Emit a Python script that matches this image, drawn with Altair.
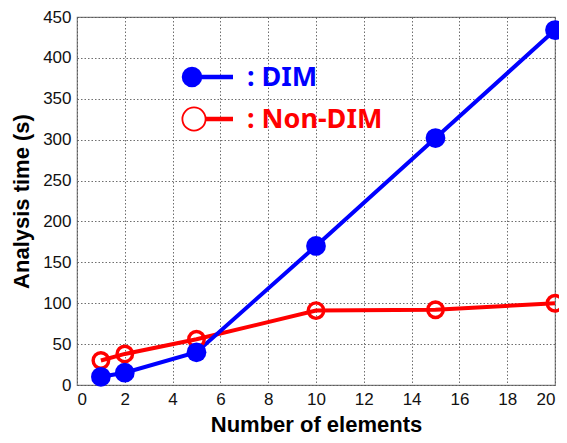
import altair as alt
import pandas as pd

elements = [1, 2, 5, 10, 15, 20]
dim_time = [10, 15, 40, 170, 302, 434]
nondim_time = [30, 38, 56, 91, 92, 100]
series_names = ["DIM", "Non-DIM"]
legend_labels = [": DIM", ": Non-DIM"]
x_ticks = list(range(0, 21, 2))
y_ticks = list(range(0, 451, 50))

BLUE = "#0000FF"
RED = "#FF0000"

df = pd.DataFrame({
    "n": elements * 2,
    "t": dim_time + nondim_time,
    "series": [series_names[0]] * len(elements) + [series_names[1]] * len(elements),
})
dim_df = df[df.series == "DIM"]
non_df = df[df.series == "Non-DIM"]

W, H = 478, 368

x = alt.X("n:Q", scale=alt.Scale(domain=[0, 20], nice=False),
          axis=alt.Axis(values=x_ticks, title="Number of elements", grid=True,
                        ticks=False, domain=False, labelPadding=6,
                        titlePadding=7))
y = alt.Y("t:Q", scale=alt.Scale(domain=[0, 450], nice=False),
          axis=alt.Axis(values=y_ticks, title="Analysis time (s)", grid=True,
                        ticks=False, domain=False, labelPadding=6,
                        titlePadding=9))

non_line = alt.Chart(non_df).mark_line(color=RED, strokeWidth=4).encode(x=x, y=y)
non_pts = alt.Chart(non_df).mark_point(color=RED, filled=False, strokeWidth=3.4,
                                      size=240, opacity=1).encode(x=x, y=y)
dim_line = alt.Chart(dim_df).mark_line(color=BLUE, strokeWidth=4).encode(x=x, y=y)
dim_pts = alt.Chart(dim_df).mark_point(color=BLUE, filled=True, size=390,
                                      opacity=1).encode(x=x, y=y)

leg = pd.DataFrame({"series": series_names, "label": legend_labels})
leg_dim = leg[leg.series == "DIM"]
leg_non = leg[leg.series == "Non-DIM"]

def legend_entry(d, color, filled, cx, cy, size, sw):
    rule = alt.Chart(d).mark_rule(color=color, strokeWidth=4.5).encode(
        x=alt.value(cx + 8), x2=alt.value(156), y=alt.value(cy))
    pt = alt.Chart(d).mark_point(color=color, filled=filled, size=size,
                                 strokeWidth=sw, opacity=1,
                                 fill=color if filled else "white").encode(
        x=alt.value(cx), y=alt.value(cy))
    txt = alt.Chart(d).mark_text(color=color, font="Noto Sans", fontWeight="bold",
                                 fontSize=27, align="left", baseline="alphabetic").encode(
        x=alt.value(170), y=alt.value(cy + 9), text="label:N")
    return rule + pt + txt

legend = legend_entry(leg_dim, BLUE, True, 115, 60, 420, 1) + \
         legend_entry(leg_non, RED, False, 117, 102, 540, 1.8)

chart = alt.layer(non_line, dim_line, non_pts, dim_pts, legend).properties(
    width=W, height=H,
    autosize="none",
    padding={"left": 69, "top": 9, "right": 4, "bottom": 50},
).configure_view(
    stroke="#808080", strokeWidth=1.2
).configure_axis(
    gridColor="#555555", gridDash=[1.5, 2], gridWidth=1, gridOpacity=0.85,
    labelFont="Liberation Sans", labelFontSize=17, labelColor="#111111",
    titleFont="Liberation Sans", titleFontSize=22, titleFontWeight="bold",
    titleColor="#000000",
)

chart.save("out.html", embed_options={"renderer": "svg", "actions": False})
